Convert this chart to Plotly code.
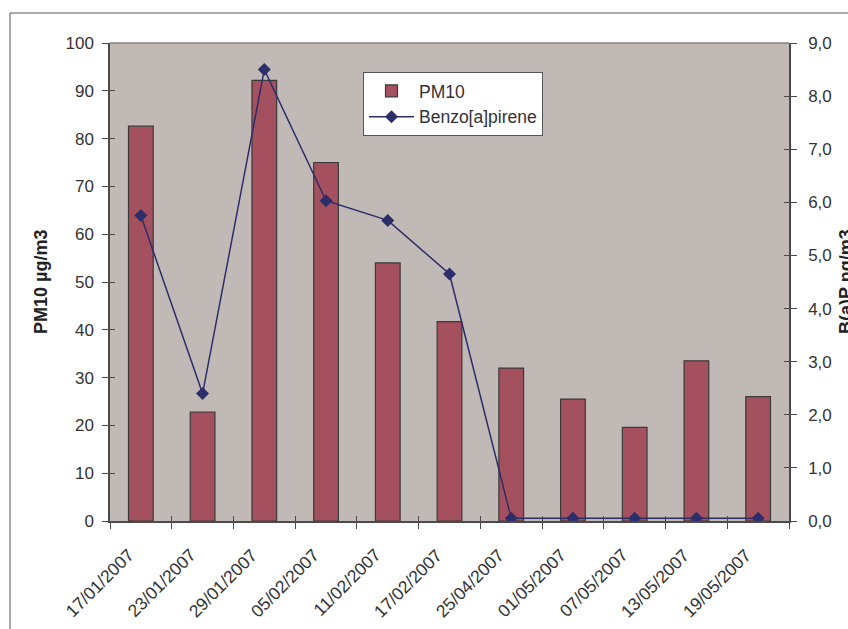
import plotly.graph_objects as go

dates = ["17/01/2007", "23/01/2007", "29/01/2007", "05/02/2007", "11/02/2007",
         "17/02/2007", "25/04/2007", "01/05/2007", "07/05/2007", "13/05/2007",
         "19/05/2007"]
pm10 = [82.6, 22.8, 92.2, 75.0, 54.0, 41.7, 32.0, 25.5, 19.6, 33.5, 26.0]
bap = [5.75, 2.40, 8.50, 6.03, 5.66, 4.65, 0.05, 0.05, 0.05, 0.05, 0.05]

left_ticks = list(range(0, 101, 10))
right_ticks = [i * 1.0 for i in range(0, 10)]

FONT = "Liberation Sans, Arial, sans-serif"
BAR = "#A4505E"
LINE = "#2C2E6C"
PLOT_BG = "#C1B9B6"
AXIS = "#4A4A4A"

W, H = 848, 629
L, R, T, B = 110, 59, 43, 108
pw, ph = W - L - R, H - T - B


def px_x(x):
    return (x - L) / pw


def px_y(y):
    return (H - B - y) / ph


fig = go.Figure()
fig.add_trace(go.Bar(
    x=dates, y=pm10, name="PM10",
    marker=dict(color=BAR, line=dict(color="#3A3A3A", width=1.2)),
    width=0.4,
))
fig.add_trace(go.Scatter(
    x=dates, y=bap, name="Benzo[a]pirene", yaxis="y2", mode="lines+markers",
    line=dict(color=LINE, width=1.5),
    marker=dict(symbol="diamond", size=10, color=LINE),
))

tickfont = dict(family=FONT, size=17, color="#333333")

fig.update_layout(
    width=W, height=H,
    margin=dict(l=L, r=R, t=T, b=B, autoexpand=False),
    paper_bgcolor="white",
    plot_bgcolor=PLOT_BG,
    separators=", ",
    showlegend=True,
    bargap=0.6,
    legend=dict(
        x=px_x(363), y=px_y(72), xanchor="left", yanchor="top",
        bgcolor="white", bordercolor="#555555", borderwidth=1,
        font=dict(family=FONT, size=17.5, color="#333333"),
        tracegroupgap=6, itemwidth=45,
    ),
    xaxis=dict(
        type="category", range=[-0.5, 10.5], tickson="boundaries",
        ticks="outside", ticklen=6, tickcolor=AXIS, tickwidth=1,
        showline=True, linecolor=AXIS, linewidth=1.5,
        showticklabels=False, showgrid=False, automargin=False,
    ),
    yaxis=dict(
        range=[0, 100], tickvals=left_ticks,
        ticks="outside", ticklen=6, tickcolor=AXIS, tickwidth=1,
        showline=True, linecolor=AXIS, linewidth=1.5,
        tickfont=tickfont, showgrid=False, zeroline=False,
        ticklabelstandoff=5, automargin=False,
    ),
    yaxis2=dict(
        range=[0, 9], tickvals=right_ticks, tickformat=".1f",
        overlaying="y", side="right",
        ticks="outside", ticklen=6, tickcolor=AXIS, tickwidth=1,
        showline=True, linecolor=AXIS, linewidth=1.5,
        tickfont=tickfont, showgrid=False, zeroline=False,
        ticklabelstandoff=8, automargin=False,
    ),
    # inward halves of the crossing tick marks
    yaxis3=dict(
        range=[0, 100], tickvals=left_ticks, overlaying="y", side="left",
        ticks="inside", ticklen=5, tickcolor=AXIS, showticklabels=False,
        showline=False, showgrid=False, zeroline=False,
    ),
    yaxis4=dict(
        range=[0, 9], tickvals=right_ticks, overlaying="y", side="right",
        ticks="inside", ticklen=5, tickcolor=AXIS, showticklabels=False,
        showline=False, showgrid=False, zeroline=False,
    ),
    xaxis2=dict(
        type="category", range=[-0.5, 10.5], overlaying="x", side="bottom",
        tickson="boundaries", ticks="inside", ticklen=5, tickcolor=AXIS,
        showticklabels=False, showline=False, showgrid=False,
        categoryorder="array", categoryarray=dates,
    ),
)

# invisible traces to bring the overlay axes to life
fig.add_trace(go.Scatter(x=dates, y=pm10, yaxis="y3", mode="none",
                         showlegend=False, hoverinfo="skip"))
fig.add_trace(go.Scatter(x=dates, y=bap, yaxis="y4", mode="none",
                         showlegend=False, hoverinfo="skip"))
fig.add_trace(go.Scatter(x=dates, y=pm10, xaxis="x2", mode="none",
                         showlegend=False, hoverinfo="skip"))

# slanted date labels under each category
for d in dates:
    fig.add_annotation(
        text=d, x=d, xref="x", y=px_y(542), yref="paper",
        textangle=-45, showarrow=False, xanchor="right", yanchor="top",
        xshift=0, font=dict(family=FONT, size=17.5, color="#333333"),
    )

# axis titles
title_font = dict(family=FONT, size=18, color="#222222")
fig.add_annotation(
    text="<b>PM10 µg/m3</b>", xref="paper", yref="paper",
    x=px_x(41), y=0.5, textangle=-90, showarrow=False,
    xanchor="center", yanchor="middle", font=title_font,
)
fig.add_annotation(
    text="<b>B(a)P ng/m3</b>", xref="paper", yref="paper",
    x=px_x(846), y=0.5, textangle=-90, showarrow=False,
    xanchor="center", yanchor="middle", font=title_font,
)

# top edge of the plot area and outer chart frame
fig.add_shape(type="line", xref="paper", yref="paper", x0=0, x1=1, y0=1, y1=1,
              line=dict(color="#8A807E", width=1.5))
fig.add_shape(type="line", xref="paper", yref="paper",
              x0=px_x(10), x1=px_x(W + 5), y0=px_y(13), y1=px_y(13),
              line=dict(color="#555555", width=1))
fig.add_shape(type="line", xref="paper", yref="paper",
              x0=px_x(10), x1=px_x(10), y0=px_y(13), y1=px_y(H + 5),
              line=dict(color="#555555", width=1))

fig.write_html("out.html")
